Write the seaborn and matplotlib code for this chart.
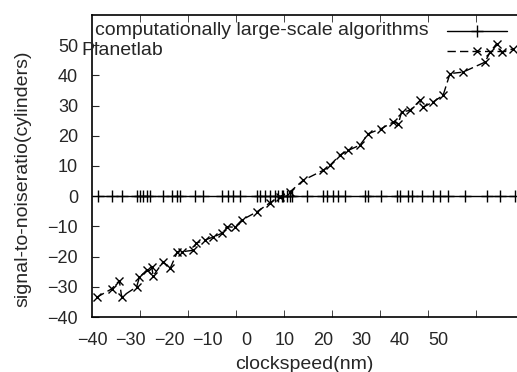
import numpy as np
import matplotlib
matplotlib.use("Agg")
import matplotlib.pyplot as plt
import seaborn as sns
from matplotlib.lines import Line2D
from matplotlib.ticker import FixedLocator

# series 1: flat line at zero with + markers
x1 = [-38.4, -34.9, -32.3, -28.4, -27.5, -26.7, -25.8, -24.9, -21.5, -19.3, -18.0, -17.1,
      -13.2, -11.1, -6.3, -4.6, -3.3, -1.6, 2.8, 3.6, 4.9, 6.2, 7.5, 8.4, 9.3, 9.7, 10.6,
      11.4, 11.9, 15.8, 20.1, 21.0, 22.7, 24.0, 25.7, 30.9, 31.8, 35.2, 39.1, 40.0, 42.2,
      43.0, 45.6, 48.6, 50.4, 52.5, 56.9, 62.5, 66.0, 69.9]
y1 = [0.0] * len(x1)

# series 2: Planetlab, dashed with x markers
x2 = [-38.8, -34.9, -32.9, -32.3, -28.4, -27.7, -25.8, -24.5, -24.1, -21.5, -19.7, -17.8,
      -16.7, -13.7, -13.0, -10.6, -8.5, -6.3, -5.0, -2.9, -1.1, 2.8, 6.2, 8.8, 11.4, 14.9,
      20.1, 21.8, 24.4, 26.6, 29.6, 31.8, 35.2, 38.3, 39.6, 40.4, 42.6, 45.2, 46.1, 48.6,
      51.2, 53.0, 56.4, 62.1, 63.4, 65.1, 66.4, 69.4]
y2 = [-33.5, -30.7, -28.0, -33.3, -30.0, -26.9, -24.5, -23.4, -26.4, -21.7, -23.9, -18.4,
      -18.4, -17.9, -15.6, -14.5, -13.5, -12.3, -10.1, -10.3, -7.9, -5.2, -2.2, -0.2, 1.4, 5.3,
      8.6, 10.2, 13.6, 15.2, 16.9, 20.7, 22.4, 24.6, 24.0, 27.9, 28.4, 31.7, 29.5, 31.2,
      33.4, 40.6, 41.1, 44.4, 47.7, 50.5, 47.7, 48.8]

labels = ["computationally large-scale algorithms", "Planetlab"]
xticks = list(range(-40, 51, 10))
yticks = list(range(-40, 51, 10))

sns.set_style("ticks")
plt.rcParams['font.family'] = ['Liberation Sans', 'DejaVu Sans']
fs = 13      # tick labels
fs_lab = 14  # axis labels and key text

fig = plt.figure(figsize=(5.17, 3.72), dpi=100)
ax = fig.add_axes([92 / 517, 55 / 372, 1 - 92 / 517, 302 / 372])

sns.lineplot(x=x1, y=y1, sort=False, color='k', lw=1.0, marker='+', ms=8,
             mew=1.0, mec='k', ax=ax)
sns.lineplot(x=x2, y=y2, sort=False, color='k', lw=1.0, ls=(0, (6, 3)), marker='x',
             ms=5.5, mew=1.0, mec='k', ax=ax)

ax.set_xlim(-40, 70.4)
ax.set_ylim(-40, 60)
ax.set_xticks(xticks)
ax.set_yticks(yticks)
# tick marks on the frame are spaced differently from the labels
ax.xaxis.set_minor_locator(FixedLocator(np.arange(-40, 71, 12.47)))
ax.tick_params(axis='x', which='major', length=0, pad=11, labelsize=fs)
ax.tick_params(axis='x', which='minor', direction='in', length=5, top=True, bottom=True)
ax.tick_params(axis='y', which='major', direction='in', length=5, pad=10, labelsize=fs,
               right=False)
for s in ['left', 'bottom', 'top']:
    ax.spines[s].set_linewidth(1.2)
    ax.spines[s].set_color('k')
ax.spines['right'].set_visible(False)

ax.set_xlabel("clockspeed(nm)", fontsize=fs_lab)
ax.set_ylabel("signal-to-noiseratio(cylinders)", fontsize=fs_lab)
ax.xaxis.set_label_coords(0.5, -0.13)
ax.yaxis.set_label_coords(-0.142, 0.457)

handles = [Line2D([], [], color='k', lw=1.0, marker='+', ms=8),
           Line2D([], [], color='k', lw=1.0, ls=(0, (6, 3)), marker='x', ms=5.5)]
ax.legend(handles, ['', ''], loc='upper left', bbox_to_anchor=(0.797, 1.023), frameon=False,
          handlelength=3.3, numpoints=1, fontsize=fs, labelspacing=0.15, handletextpad=0)
ax.text(0.007, 0.95, labels[0], transform=ax.transAxes, fontsize=fs_lab, va='center')
ax.text(-0.024, 0.884, labels[1], transform=ax.transAxes, fontsize=fs_lab, va='center')

fig.savefig("out.png", dpi=100)
